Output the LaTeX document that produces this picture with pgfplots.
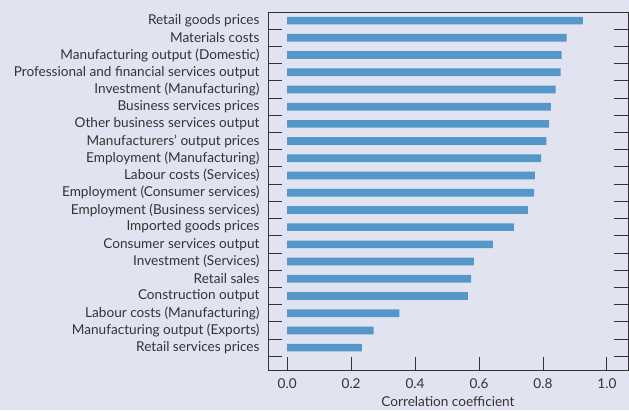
\documentclass[border=0pt]{standalone}
\usepackage{pgfplots}
\pgfplotsset{compat=1.18}
\usepackage{fontspec}
\setmainfont{Lato}
\definecolor{bgcol}{HTML}{E1E4F0}
\definecolor{barcol}{HTML}{5597C8}
\definecolor{txtcol}{HTML}{333333}

\begin{document}
\begin{tikzpicture}
\fill[bgcol] (0,0) rectangle (629pt,410pt);
\useasboundingbox (0,0) rectangle (629pt,410pt);
\begin{axis}[
    at={(268pt,40pt)}, anchor=south west,
    scale only axis,
    width=360pt, height=358pt,
    xbar, bar width=7.7pt,
    y dir=reverse,
    xmin=-0.06, xmax=1.066,
    ymin=-0.5, ymax=20.3,
    xtick={0,0.2,...,1.0},
    xtick pos=bottom,
    xticklabel style={/pgf/number format/fixed, /pgf/number format/fixed zerofill,
      /pgf/number format/precision=1, yshift=-5pt},
    ytick={0,...,19},
    yticklabels={Retail goods prices, Materials costs, Manufacturing output (Domestic),
      Professional and financial services output, Investment (Manufacturing),
      Business services prices, Other business services output,
      Manufacturers’ output prices, Employment (Manufacturing), Labour costs (Services),
      Employment (Consumer services), Employment (Business services),
      Imported goods prices, Consumer services output, Investment (Services),
      Retail sales, Construction output, Labour costs (Manufacturing),
      Manufacturing output (Exports), Retail services prices},
    minor ytick={0.5,1.5,...,19.5},
    ytick pos=both,
    yticklabel pos=left,
    tick align=inside,
    major tick length=13pt,
    every major y tick/.style={draw=none},
    minor tick length=14pt,
    tick style={txtcol, line width=0.9pt},
    axis line style={txtcol, line width=0.9pt},
    yticklabel style={xshift=-5pt},
    /pgf/number format/assume math mode=true,
    tick label style={font=\fontsize{13.6}{15}\selectfont, text=txtcol},
    xlabel={Correlation coefficient},
    xlabel style={font=\fontsize{13.6}{15}\selectfont, text=txtcol, yshift=-1pt},
]
\addplot[fill=barcol, draw=none] coordinates {
    (0.925,0) (0.874,1) (0.858,2) (0.855,3) (0.840,4) (0.825,5) (0.819,6)
    (0.811,7) (0.794,8) (0.775,9) (0.772,10) (0.753,11) (0.709,12) (0.643,13)
    (0.584,14) (0.575,15) (0.565,16) (0.351,17) (0.270,18) (0.234,19)
};
\end{axis}
\end{tikzpicture}
\end{document}
